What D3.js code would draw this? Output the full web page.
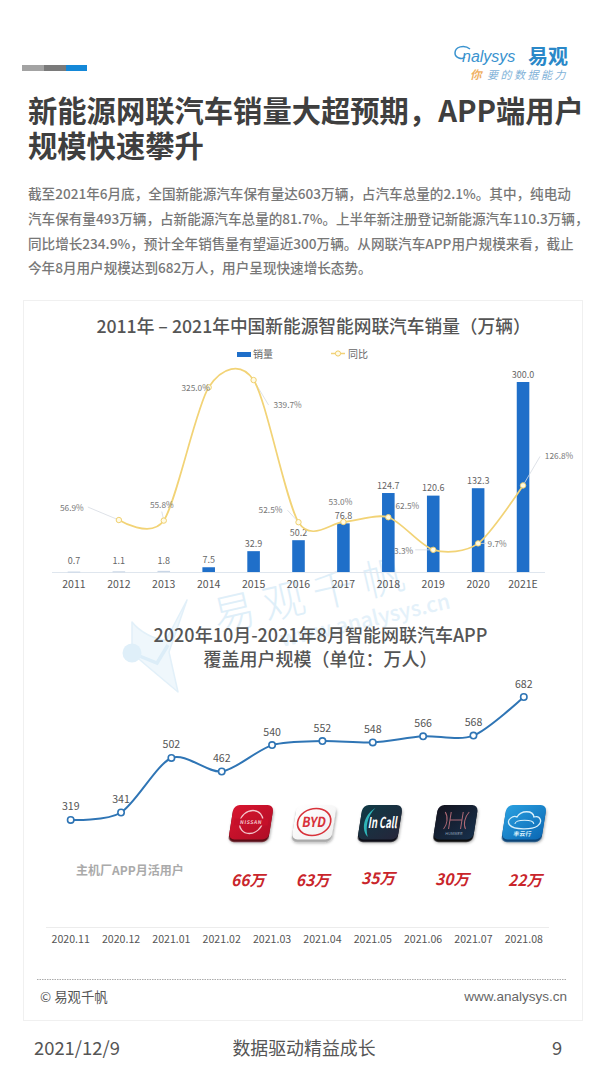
<!DOCTYPE html>
<html><head><meta charset="utf-8">
<script src="https://cdn.jsdelivr.net/npm/d3@7/dist/d3.min.js"></script>
<style>
html,body{margin:0;padding:0;background:#fff}
svg{display:block}
text{font-family:"Noto Sans CJK SC","Noto Sans",sans-serif}
</style></head><body>
<svg id="c" width="608" height="1081"></svg>
<script>
// ---- data ----
const years=["2011","2012","2013","2014","2015","2016","2017","2018","2019","2020","2021E"];
const sales=[0.7,1.1,1.8,7.5,32.9,50.2,76.8,124.7,120.6,132.3,300.0];
const yoy=[null,56.9,55.8,325.0,339.7,52.5,53.0,62.5,-3.3,9.7,126.8];
const months=["2020.11","2020.12","2021.01","2021.02","2021.03","2021.04","2021.05","2021.06","2021.07","2021.08"];
const users=[319,341,502,462,540,552,548,566,568,682];
const brands=["nissan","byd","incall","hummer","fengxing"];
const brandUsers=["66万","63万","35万","30万","22万"];
const titleLines=["新能源网联汽车销量大超预期，APP端用户","规模快速攀升"];
const paragraph=["截至2021年6月底，全国新能源汽车保有量达603万辆，占汽车总量的2.1%。其中，纯电动",
"汽车保有量493万辆，占新能源汽车总量的81.7%。上半年新注册登记新能源汽车110.3万辆，",
"同比增长234.9%，预计全年销售量有望逼近300万辆。从网联汽车APP用户规模来看，截止",
"今年8月用户规模达到682万人，用户呈现快速增长态势。"];
// label offsets relative to each yoy point (layout, not data)
const yoyLabelOffset=[null,[-47,-13],[-2,-16.5],[-13,0],[34,24],[-28,-13],[-3,-21],[19,-12],[-31,0],[19,0],[36,-30]];
const leaderOffset=[null,[-31,-13],[-2,-9],null,[15,25],[-11,-12],null,null,[-18,0],[8,0],[17,-29]];

const svg=d3.select("#c");
const txt=(x,y,s,o={})=>svg.append("text").attr("x",x).attr("y",y).attr("dominant-baseline","central")
  .attr("font-size",o.size||10).attr("fill",o.fill||"#555").attr("font-weight",o.weight||400)
  .attr("text-anchor",o.anchor||"start").attr("font-style",o.style||"normal").text(s);

// ---- page furniture ----
svg.append("rect").attr("x",22).attr("y",65).attr("width",22).attr("height",6).attr("fill","#a3a3a3");
svg.append("rect").attr("x",44).attr("y",65).attr("width",22).attr("height",6).attr("fill","#7a7a7a");
svg.append("rect").attr("x",66).attr("y",65).attr("width",21).attr("height",6).attr("fill","#1488d8");

// logo
svg.append("path").attr("d","M470 49C464 44 455 47 455 53C455 58 462 60 465 57").attr("fill","none").attr("stroke","#3a93cf").attr("stroke-width",1.5);
txt(462,56,"nalysys",{size:16,fill:"#3a93cf",style:"italic"}).style("font-family","'Liberation Sans'");
txt(528,55,"易观",{size:20,fill:"#2a88c8",weight:700});
txt(470,74,"你",{size:11.5,fill:"#f0b163",style:"italic",weight:700});
txt(487,74,"要的数据能力",{size:11,fill:"#7fb2d8",style:"italic"}).attr("letter-spacing",2.5);

titleLines.forEach((t,i)=>txt(28,109+i*35,t,{size:29.3,fill:"#3f3f3f",weight:700}));
paragraph.forEach((t,i)=>txt(28,[192.5,217.5,242.5,266.5][i],t,{size:13.6,fill:"#777",weight:500}));

svg.append("rect").attr("x",23.5).attr("y",300.5).attr("width",559).attr("height",720).attr("fill","#fff").attr("stroke","#f0f0f0");

// ---- watermark ----
const wm=svg.append("g").attr("fill","#dfeff9");
wm.append("path").attr("fill","#eff7fc").attr("stroke","#e2f0f9").attr("stroke-width",1.5).attr("stroke-linejoin","round")
  .attr("d","M132 622C140 632 155 640 166 640L187 600L169 652L178 692L147 666L132 653Z");
wm.append("path").attr("fill","none").attr("stroke","#dcedf8").attr("stroke-width",3.5).attr("d","M132 653L157 663L168 645");
wm.append("circle").attr("cx",132).attr("cy",653).attr("r",9.5);
wm.append("text").attr("transform","translate(217,632) rotate(-13)").attr("font-size",42).attr("font-weight",300).attr("letter-spacing",9).attr("fill","#dfeff9").text("易观千帆");
wm.append("text").attr("transform","translate(282,647) rotate(-13)").attr("font-size",21).attr("font-weight",500).attr("fill","#e4f1fa").text("www.analysys.cn");

// ---- chart 1 ----
txt(313.5,324.5,"2011年 – 2021年中国新能源智能网联汽车销量（万辆）",{size:17.7,anchor:"middle",fill:"#555",weight:500});
svg.append("rect").attr("x",237).attr("y",352).attr("width",14).attr("height",5).attr("fill","#1f6fc9");
txt(253,353.5,"销量",{size:10,fill:"#666"});
svg.append("line").attr("x1",331).attr("x2",345).attr("y1",353.5).attr("y2",353.5).attr("stroke","#f2d27a").attr("stroke-width",1.5);
svg.append("circle").attr("cx",338).attr("cy",353.5).attr("r",2.6).attr("fill","#fffbe8").attr("stroke","#f0cc66");
txt(348,353.5,"同比",{size:10,fill:"#666"});

const x1=d3.scaleBand().domain(years).range([51.5,545.5]).paddingInner(0.72).paddingOuter(0.36);
const y1=d3.scaleLinear().domain([0,300]).range([572,382]);
const y2=d3.scaleLinear().domain([0,340]).range([548.2,379.9]);
const cx1=d=>x1(d)+x1.bandwidth()/2;

// the label of the negative point sits behind the bar next to it, as in the source
const yoyPts=years.map((d,i)=>({year:d,v:yoy[i],i})).filter(d=>d.v!==null);
const pctLabel=d=>svg.append("text").attr("x",cx1(d.year)+yoyLabelOffset[d.i][0]).attr("y",y2(d.v)+yoyLabelOffset[d.i][1])
  .attr("text-anchor","middle").attr("dominant-baseline","central").attr("font-size",8.3).attr("fill","#777")
  .text(d.v.toFixed(1)+"%");
pctLabel(yoyPts.find(d=>d.v<0));

svg.append("line").attr("x1",52).attr("x2",545).attr("y1",572.5).attr("y2",572.5).attr("stroke","#dfe6ee");
svg.append("g").selectAll("rect").data(years).join("rect")
  .attr("x",d=>x1(d)).attr("width",x1.bandwidth())
  .attr("y",(d,i)=>y1(sales[i])).attr("height",(d,i)=>Math.max(1,572-y1(sales[i])))
  .attr("fill",(d,i)=>sales[i]<3?"#c9d6e6":"#1f6fc9");
svg.append("g").selectAll("text").data(years).join("text")
  .attr("x",d=>cx1(d)).attr("y",(d,i)=>Math.min(y1(sales[i]),568.5)-8)
  .attr("text-anchor","middle").attr("dominant-baseline","central").attr("font-size",9).attr("fill","#666")
  .text((d,i)=>sales[i].toFixed(1));
svg.append("g").selectAll("text").data(years).join("text")
  .attr("x",d=>cx1(d)).attr("y",583.5).attr("text-anchor","middle").attr("dominant-baseline","central")
  .attr("font-size",10.5).attr("fill","#555").text(d=>d);

// leaders
svg.append("g").selectAll("line").data(yoyPts.filter(d=>leaderOffset[d.i])).join("line")
  .attr("x1",d=>cx1(d.year)).attr("y1",d=>y2(d.v))
  .attr("x2",d=>cx1(d.year)+leaderOffset[d.i][0]).attr("y2",d=>y2(d.v)+leaderOffset[d.i][1])
  .attr("stroke","#d5dbe2").attr("stroke-width",.8);
// yoy line
svg.append("path").datum(yoyPts).attr("fill","none").attr("stroke","#f2d376").attr("stroke-width",1.7)
  .attr("d",d3.line().x(d=>cx1(d.year)).y(d=>y2(d.v)).curve(d3.curveCardinal.tension(0.15)));
svg.append("g").selectAll("circle").data(yoyPts).join("circle")
  .attr("cx",d=>cx1(d.year)).attr("cy",d=>y2(d.v)).attr("r",2.7)
  .attr("fill","#fffbe6").attr("stroke","#f0d070").attr("stroke-width",1);
yoyPts.filter(d=>d.v>=0).forEach(pctLabel);

// ---- chart 2 ----
txt(320.5,633.5,"2020年10月-2021年8月智能网联汽车APP",{size:18,anchor:"middle",fill:"#555",weight:500});
txt(320.5,657.5,"覆盖用户规模（单位：万人）",{size:18,anchor:"middle",fill:"#555",weight:500});

const x2=d3.scalePoint().domain(months).range([70.7,523.8]);
const y3=d3.scaleLinear().domain([0,682]).range([928,697]);
svg.append("line").attr("x1",46).attr("x2",549).attr("y1",927.5).attr("y2",927.5).attr("stroke","#ececec");
svg.append("path").datum(users).attr("fill","none").attr("stroke","#2f75b5").attr("stroke-width",2)
  .attr("d",d3.line().x((d,i)=>x2(months[i])).y(d=>y3(d)).curve(d3.curveCardinal.tension(0.15)));
svg.append("g").selectAll("circle").data(users).join("circle")
  .attr("cx",(d,i)=>x2(months[i])).attr("cy",d=>y3(d)).attr("r",3.2)
  .attr("fill","#fff").attr("stroke","#2f75b5").attr("stroke-width",1.6);
svg.append("g").selectAll("text").data(users).join("text")
  .attr("x",(d,i)=>x2(months[i])).attr("y",d=>y3(d)-14).attr("text-anchor","middle").attr("dominant-baseline","central")
  .attr("font-size",10.6).attr("fill","#555").text(d=>d);
svg.append("g").selectAll("text.m").data(months).join("text").attr("class","m")
  .attr("x",d=>x2(d)).attr("y",938).attr("text-anchor","middle").attr("dominant-baseline","central")
  .attr("font-size",10.6).attr("fill","#555").text(d=>d);

txt(76,869,"主机厂APP月活用户",{size:12,fill:"#aaa",weight:700});

// ---- brand icons ----
const defs=svg.append("defs");
const grad=(id,a,b)=>{const g=defs.append("linearGradient").attr("id",id).attr("x1",0).attr("y1",0).attr("x2",1).attr("y2",1);
  g.append("stop").attr("offset",0).attr("stop-color",a);g.append("stop").attr("offset",1).attr("stop-color",b);};
grad("g-nissan","#d8152f","#b00d26");grad("g-byd","#ffffff","#f0f0f0");grad("g-incall","#103a46","#25253a");
grad("g-hummer","#14141f","#17304c");grad("g-fengxing","#2aa0e0","#0b68b4");
const lip={nissan:"#5a0c18",byd:"#a9a9a9",incall:"#0c0c16",hummer:"#08080e",fengxing:"#0a4478"};
const f=defs.append("filter").attr("id","sh").attr("x","-20%").attr("y","-20%").attr("width","140%").attr("height","150%");
f.append("feDropShadow").attr("dx",1).attr("dy",1).attr("stdDeviation",1.4).attr("flood-color","#000").attr("flood-opacity",.35);
const iconX=d3.scaleOrdinal().domain(brands).range([251,314,380,455.5,524]);
const icon=svg.append("g").selectAll("g").data(brands).join("g")
  .attr("transform",d=>`translate(${iconX(d)},823) skewX(-9)`);
icon.append("rect").attr("x",-20).attr("y",-16).attr("width",40).attr("height",35).attr("rx",6)
  .attr("fill",d=>lip[d]).attr("filter","url(#sh)");
icon.append("rect").attr("x",-20).attr("y",-18).attr("width",40).attr("height",34.5).attr("rx",6)
  .attr("fill",d=>`url(#g-${d})`);
const at=(b)=>icon.filter(d=>d===b);
at("nissan").append("circle").attr("r",11.5).attr("cy",-1).attr("fill","none").attr("stroke","#f3c6cd").attr("stroke-width",1.3);
at("nissan").append("rect").attr("x",-17).attr("y",-4.5).attr("width",34).attr("height",7).attr("fill","#c5102a");
at("nissan").append("text").attr("text-anchor","middle").attr("y",1).attr("font-size",5).attr("font-weight",700).attr("letter-spacing",.6).attr("fill","#f3c6cd").text("NISSAN");
at("byd").append("ellipse").attr("rx",16.5).attr("ry",13.5).attr("cy",-1).attr("fill","none").attr("stroke","#d8323a").attr("stroke-width",1.6);
at("byd").append("text").attr("text-anchor","middle").attr("y",4).attr("font-size",14).attr("font-weight",700).attr("fill","#d8323a").attr("textLength",24).attr("lengthAdjust","spacingAndGlyphs").text("BYD");
at("incall").append("path").attr("d","M-7 -15C-18 -8 -18 7 -10 14C-14 5 -14 -7 -7 -15Z").attr("fill","#2fb4b8");
at("incall").append("text").attr("text-anchor","middle").attr("x",3).attr("y",4.5).attr("font-size",15).attr("font-weight",700).attr("fill","#fff").attr("textLength",29).attr("lengthAdjust","spacingAndGlyphs").text("In Call");
at("hummer").append("path").attr("d","M-12 -11C-8 -6 -8 2 -11 6M-6 -11V6M12 -11C8 -6 8 2 11 6M6 -11V6M-6 -3H6").attr("fill","none").attr("stroke","#b06a76").attr("stroke-width",1);
at("hummer").append("text").attr("text-anchor","middle").attr("y",12).attr("font-size",4).attr("fill","#8fa0b5").text("HUMMER");
at("fengxing").append("path").attr("d","M-14 2C-19 -3 -12 -8 -8 -6C-5 -13 7 -13 9 -6C15 -8 19 -1 14 3C9 7 -9 7 -14 2Z").attr("fill","none").attr("stroke","#d9f0fb").attr("stroke-width",1.3);
at("fengxing").append("path").attr("d","M-9 1C-9 -4 9 -4 10 1").attr("fill","none").attr("stroke","#d9f0fb").attr("stroke-width",1);
at("fengxing").append("text").attr("text-anchor","middle").attr("y",13).attr("font-size",6).attr("font-weight",700).attr("fill","#d9f0fb").text("丰云行");

const valX=d3.scaleOrdinal().domain(brands).range([248,312.7,378,452,525]);
const valY=d3.scaleOrdinal().domain(brands).range([879,878.5,876.5,878,879]);
svg.append("g").selectAll("text").data(brands).join("text")
  .attr("x",d=>valX(d)).attr("y",d=>valY(d)).attr("text-anchor","middle").attr("dominant-baseline","central")
  .attr("font-size",15.5).attr("font-style","italic").attr("font-weight",700).attr("fill","#c9252b")
  .text((d,i)=>brandUsers[i]);

// ---- footer ----
svg.append("line").attr("x1",37).attr("x2",567).attr("y1",979.5).attr("y2",979.5).attr("stroke","#aaa").attr("stroke-dasharray","1.5 1");
txt(40,996,"© 易观千帆",{size:13.4,fill:"#555"});
svg.append("text").attr("x",567).attr("y",996.5).attr("text-anchor","end").attr("dominant-baseline","central")
  .attr("font-size",13.5).attr("fill","#666").style("font-family","'Liberation Sans'").text("www.analysys.cn");
txt(34,1046.5,"2021/12/9",{size:18.4,fill:"#555"});
txt(304,1046.5,"数据驱动精益成长",{size:17.9,anchor:"middle",fill:"#555"});
txt(557,1046.5,"9",{size:18.4,anchor:"middle",fill:"#555"});
</script></body></html>
